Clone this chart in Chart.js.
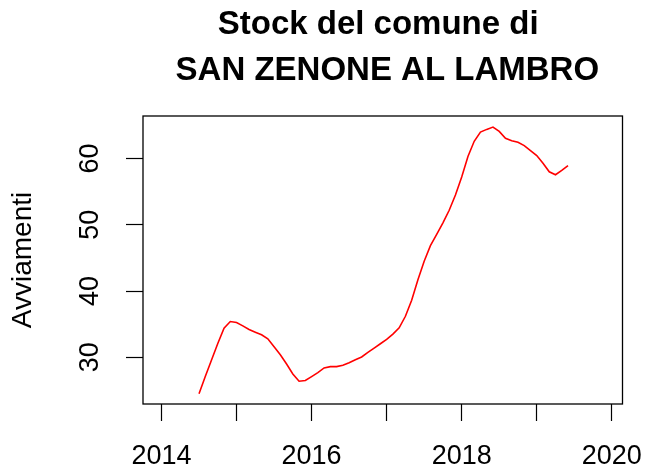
<!DOCTYPE html>
<html>
<head>
<meta charset="utf-8">
<script src="https://cdn.jsdelivr.net/npm/chart.js@4.4.1/dist/chart.umd.min.js"></script>
<style>
html,body{margin:0;padding:0;background:#fff;}
canvas{display:block;}
</style>
</head>
<body>
<canvas id="c" width="645" height="471"></canvas>
<script>
// ---- data ----
const titleLines = ["Stock del comune di ", " SAN ZENONE AL LAMBRO"];
const yLabel = "Avviamenti";
const months = [
 "2014-07","2014-08","2014-09","2014-10","2014-11","2014-12",
 "2015-01","2015-02","2015-03","2015-04","2015-05","2015-06",
 "2015-07","2015-08","2015-09","2015-10","2015-11","2015-12",
 "2016-01","2016-02","2016-03","2016-04","2016-05","2016-06",
 "2016-07","2016-08","2016-09","2016-10","2016-11","2016-12",
 "2017-01","2017-02","2017-03","2017-04","2017-05","2017-06",
 "2017-07","2017-08","2017-09","2017-10","2017-11","2017-12",
 "2018-01","2018-02","2018-03","2018-04","2018-05","2018-06",
 "2018-07","2018-08","2018-09","2018-10","2018-11","2018-12",
 "2019-01","2019-02","2019-03","2019-04","2019-05","2019-06"
];
const stock = [
 24.5, 27.1, 29.6, 32.1, 34.4, 35.4,
 35.25, 34.75, 34.2, 33.8, 33.4, 32.8,
 31.6, 30.4, 29.0, 27.5, 26.4, 26.5,
 27.1, 27.7, 28.4, 28.6, 28.6, 28.8,
 29.2, 29.65, 30.05, 30.75, 31.4, 32.05,
 32.7, 33.5, 34.45, 36.2, 38.6, 41.7,
 44.5, 46.85, 48.55, 50.3, 52.2, 54.5,
 57.2, 60.3, 62.6, 64.0, 64.4, 64.75,
 64.1, 63.05, 62.7, 62.45, 61.95, 61.2,
 60.45, 59.3, 58.0, 57.55, 58.2, 58.95
];
const xTicks = [2014, 2015, 2016, 2017, 2018, 2019, 2020];
const xTickLabels = ["2014", "", "2016", "", "2018", "", "2020"];
const yTicks = [30, 40, 50, 60];

// ---- build ----
const points = months.map((m, i) => {
  const [yy, mm] = m.split("-").map(Number);
  return { x: yy + (mm - 1) / 12, y: stock[i] };
});

const FONT = "'Liberation Sans', Arial, Helvetica, sans-serif";
Chart.defaults.color = "#000";
Chart.defaults.font.family = FONT;

const boxPlugin = {
  id: "box",
  afterDraw(chart) {
    const a = chart.chartArea, ctx = chart.ctx;
    ctx.save();
    ctx.strokeStyle = "#000";
    ctx.lineWidth = 1.3;
    ctx.strokeRect(a.left, a.top, a.right - a.left, a.bottom - a.top);
    ctx.restore();
  }
};

new Chart(document.getElementById("c"), {
  type: "line",
  data: {
    datasets: [{
      data: points,
      borderColor: "#ff0000",
      borderWidth: 1.6,
      pointRadius: 0,
      tension: 0,
      fill: false
    }]
  },
  options: {
    responsive: false,
    animation: false,
    devicePixelRatio: 1,
    layout: { padding: { left: 0, right: 22.5, top: 0, bottom: 0 } },
    plugins: {
      legend: { display: false },
      tooltip: { enabled: false },
      title: {
        display: true,
        text: titleLines,
        fullSize: false,
        color: "#000",
        font: { family: FONT, size: 33, weight: "bold", lineHeight: 46 / 33 },
        padding: { top: 1.5, bottom: 22.5 }
      }
    },
    scales: {
      x: {
        type: "linear",
        min: 2013.7535,
        max: 2020.1426,
        bounds: "data",
        afterBuildTicks: (s) => { s.ticks = xTicks.map(v => ({ value: v })); },
        afterFit: (s) => { s.height = 67; s.paddingLeft = 0; s.paddingRight = 0; },
        grid: { display: true, drawOnChartArea: false, drawTicks: true, tickLength: 17, tickColor: "#000", tickWidth: 1.2 },
        border: { display: false },
        ticks: {
          autoSkip: false,
          maxRotation: 0,
          minRotation: 0,
          padding: 19,
          color: "#000",
          font: { family: FONT, size: 27, lineHeight: 1.2 },
          callback: (v) => { const i = xTicks.indexOf(Math.round(v)); return i >= 0 ? xTickLabels[i] : ""; }
        }
      },
      y: {
        type: "linear",
        min: 22.96,
        max: 66.42,
        bounds: "data",
        afterBuildTicks: (s) => { s.ticks = yTicks.map(v => ({ value: v })); },
        afterFit: (s) => { s.width = 143; s.paddingTop = 0; s.paddingBottom = 0; },
        grid: { display: true, drawOnChartArea: false, drawTicks: true, tickLength: 17, tickColor: "#000", tickWidth: 1.2 },
        border: { display: false },
        title: {
          display: true,
          text: yLabel,
          color: "#000",
          font: { family: FONT, size: 28, lineHeight: 1 },
          padding: { top: 9.6, bottom: 0 }
        },
        ticks: {
          autoSkip: false,
          minRotation: 90,
          maxRotation: 90,
          crossAlign: "center",
          padding: 20,
          color: "#000",
          font: { family: FONT, size: 27, lineHeight: 1.2 },
          callback: (v) => String(v)
        }
      }
    }
  },
  plugins: [boxPlugin]
});
</script>
</body>
</html>
